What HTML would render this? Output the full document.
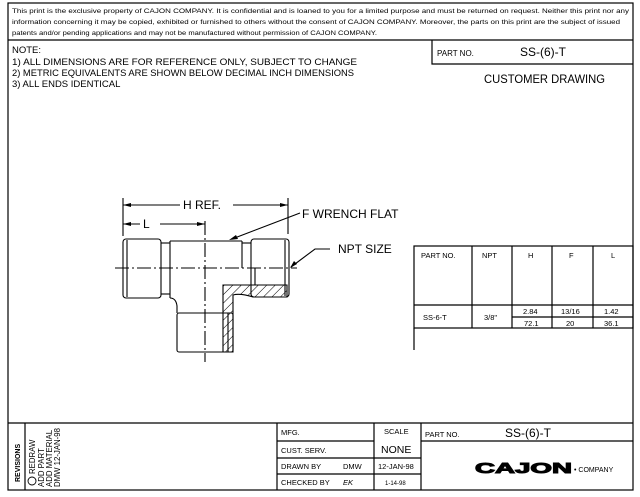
<!DOCTYPE html>
<html><head><meta charset="utf-8"><style>
html,body{margin:0;padding:0;background:#fff;}
svg{display:block;}
text{font-family:"Liberation Sans",sans-serif;fill:#000;}
</style></head><body>
<svg width="640" height="497" viewBox="0 0 640 497" xmlns="http://www.w3.org/2000/svg">
<defs>
<pattern id="h" patternUnits="userSpaceOnUse" width="6" height="6" patternTransform="rotate(45)">
<line x1="0" y1="0" x2="0" y2="6" stroke="#000" stroke-width="1"/>
</pattern>
</defs>
<g fill="none" stroke="#000" stroke-width="1.2">
<rect x="8" y="3" width="625" height="487"/>
<line x1="8" y1="40" x2="633" y2="40"/>
<polyline points="432,40 432,64 633,64"/>
<line x1="8" y1="423" x2="633" y2="423"/>
<line x1="25" y1="423" x2="25" y2="490"/>
<line x1="277" y1="423" x2="277" y2="490"/>
<line x1="374" y1="423" x2="374" y2="490"/>
<line x1="421" y1="423" x2="421" y2="490"/>
<line x1="277" y1="441" x2="374" y2="441"/>
<line x1="277" y1="458" x2="421" y2="458"/>
<line x1="277" y1="474" x2="421" y2="474"/>
<line x1="421" y1="441" x2="633" y2="441"/>
<rect x="414" y="246" width="219" height="82"/>
<line x1="414" y1="328" x2="414" y2="350"/>
<line x1="414" y1="305" x2="633" y2="305"/>
<line x1="472" y1="246" x2="472" y2="328"/>
<line x1="512" y1="246" x2="512" y2="328"/>
<line x1="552" y1="246" x2="552" y2="328"/>
<line x1="593" y1="246" x2="593" y2="328"/>
<line x1="512" y1="317" x2="633" y2="317"/>
</g>
<g fill="none" stroke="#000" stroke-width="1.1">
<line x1="123" y1="198" x2="123" y2="236"/>
<line x1="288" y1="198" x2="288" y2="234"/>
<line x1="123" y1="205" x2="180" y2="205"/><line x1="233" y1="205" x2="288" y2="205"/>
<line x1="123" y1="224" x2="140" y2="224"/><line x1="160" y1="224" x2="205" y2="224"/>
<line x1="205" y1="221" x2="205" y2="362" stroke-dasharray="14,3,2,3"/>
<line x1="115" y1="268" x2="297" y2="268" stroke-dasharray="14,3,2,3"/>
<rect x="123" y="239" width="38" height="59" rx="3"/>
<line x1="127" y1="240" x2="127" y2="297"/>
<line x1="161" y1="243" x2="170" y2="243"/><line x1="161" y1="294" x2="170" y2="294"/>
<line x1="170" y1="241" x2="170" y2="298"/>
<line x1="170" y1="241" x2="242" y2="241"/>
<line x1="242" y1="241" x2="242" y2="268"/>
<line x1="242" y1="243" x2="251" y2="243"/>
<rect x="251" y="239" width="38" height="58" rx="3"/>
<line x1="285" y1="240" x2="285" y2="296"/>
<line x1="255" y1="268" x2="255" y2="285"/>
<path d="M170 298 Q176 298 177 306 L177 313"/>
<rect x="177" y="313" width="56" height="39" rx="2"/>
<path d="M223 285 L287 285 L287 297 L253 297 Q240 293 233 295 L233 352 L223 352 Z" fill="url(#h)"/>
<line x1="228" y1="313" x2="228" y2="352"/>
<polyline points="300,213 232,239"/>
<polyline points="330,249 315,249 291,267"/>
</g>
<polygon points="123,205 131,203 131,207" fill="#000"/>
<polygon points="288,205 280,203 280,207" fill="#000"/>
<polygon points="123,224 131,222 131,226" fill="#000"/>
<polygon points="205,224 197,222 197,226" fill="#000"/>
<polygon points="229,240 236,235 238,239" fill="#000"/>
<polygon points="290,268 294,261 297,264" fill="#000"/>
<g font-size="12">
<text x="183" y="209">H REF.</text>
<text x="143" y="228">L</text>
<text x="302" y="218">F WRENCH FLAT</text>
<text x="338" y="253">NPT SIZE</text>
</g>
<g font-size="6.3">
<text x="12" y="13" textLength="617" lengthAdjust="spacingAndGlyphs">This print is the exclusive property of CAJON COMPANY. It is confidential and is loaned to you for a limited purpose and must be returned on request. Neither this print nor any</text>
<text x="12" y="24" textLength="608" lengthAdjust="spacingAndGlyphs">information concerning it may be copied, exhibited or furnished to others without the consent of CAJON COMPANY. Moreover, the parts on this print are the subject of issued</text>
<text x="12" y="35" textLength="365" lengthAdjust="spacingAndGlyphs">patents and/or pending applications and may not be manufactured without permission of CAJON COMPANY.</text>
</g>
<g font-size="9.5">
<text x="12" y="53">NOTE:</text>
<text x="12" y="65" textLength="345" lengthAdjust="spacingAndGlyphs">1) ALL DIMENSIONS ARE FOR REFERENCE ONLY, SUBJECT TO CHANGE</text>
<text x="12" y="76" textLength="342" lengthAdjust="spacingAndGlyphs">2) METRIC EQUIVALENTS ARE SHOWN BELOW DECIMAL INCH DIMENSIONS</text>
<text x="12" y="87">3) ALL ENDS IDENTICAL</text>
</g>
<text x="437" y="56" font-size="8">PART NO.</text>
<text x="520" y="56" font-size="12">SS-(6)-T</text>
<text x="484" y="83" font-size="12" textLength="121" lengthAdjust="spacingAndGlyphs">CUSTOMER DRAWING</text>
<g font-size="7.5">
<text x="421" y="258">PART NO.</text>
<text x="482" y="258">NPT</text>
<text x="528" y="258">H</text>
<text x="569" y="258">F</text>
<text x="611" y="258">L</text>
<text x="423" y="320">SS-6-T</text>
<text x="484" y="320">3/8"</text>
<text x="523" y="314">2.84</text><text x="524" y="326">72.1</text>
<text x="561" y="314">13/16</text><text x="566" y="326">20</text>
<text x="604" y="314">1.42</text><text x="604" y="326">36.1</text>
</g>
<g font-size="7.5">
<text x="281" y="435">MFG.</text>
<text x="281" y="453">CUST. SERV.</text>
<text x="281" y="469">DRAWN BY</text><text x="343" y="469">DMW</text>
<text x="281" y="485">CHECKED BY</text><text x="343" y="485" font-style="italic">EK</text>
<text x="384" y="434">SCALE</text>
<text x="378" y="469">12-JAN-98</text>
<text x="385" y="485" font-size="6">1-14-98</text>
<text x="425" y="437">PART NO.</text>
</g>
<text x="381" y="453" font-size="10.5">NONE</text>
<text x="505" y="437" font-size="12">SS-(6)-T</text>
<text x="475" y="473" font-size="15" font-weight="bold" font-family="Liberation Serif" textLength="97" lengthAdjust="spacingAndGlyphs" stroke="#000" stroke-width="1">CAJON</text>
<text x="574" y="472" font-size="7">• COMPANY</text>
<text transform="translate(20,482) rotate(-90)" font-size="7" font-weight="bold">REVISIONS</text>
<g font-size="7.8">
<circle cx="32" cy="481" r="4" fill="none" stroke="#000" stroke-width="0.9"/>
<text transform="translate(35,474) rotate(-90)">REDRAW</text>
<text transform="translate(44,487) rotate(-90)">ADD PART</text>
<text transform="translate(52,487) rotate(-90)">ADD MATERIAL</text>
<text transform="translate(60,487) rotate(-90)">DMW 12-JAN-98</text>
</g>
</svg>
</body></html>
